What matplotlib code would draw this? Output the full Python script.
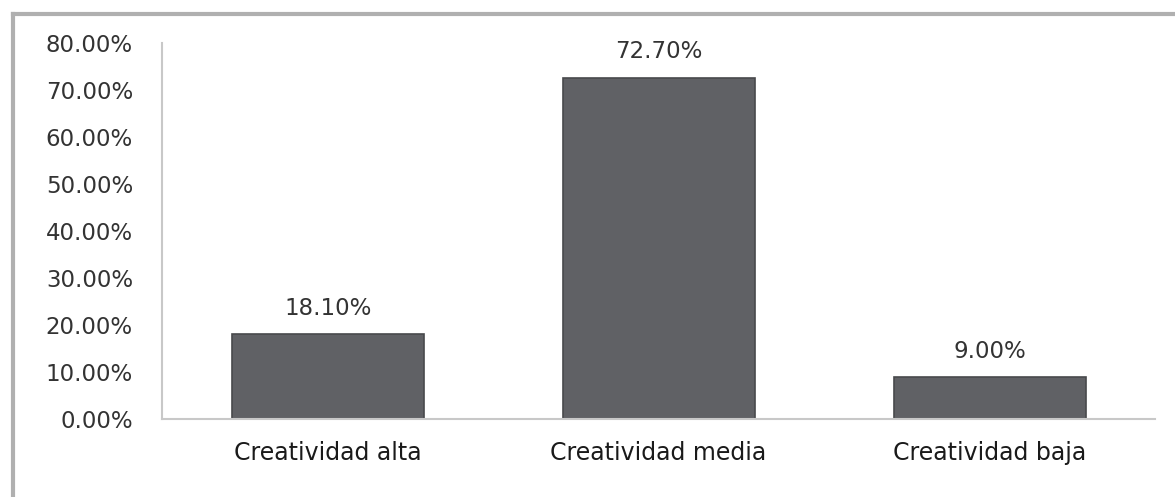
import matplotlib.pyplot as plt
from matplotlib.lines import Line2D

plt.rcParams['font.family'] = ['DejaVu Sans']

categories = ["Creatividad alta", "Creatividad media", "Creatividad baja"]
values = [0.181, 0.727, 0.090]
value_labels = ["18.10%", "72.70%", "9.00%"]
y_ticks = [0.0, 0.1, 0.2, 0.3, 0.4, 0.5, 0.6, 0.7, 0.8]

fig = plt.figure(figsize=(11.75, 4.97), dpi=100)
ax = fig.add_axes([0.138, 0.157, 0.845, 0.756])

x = list(range(len(categories)))
bars = ax.bar(x, values, width=0.58, color="#606165", edgecolor="#48494c", linewidth=1.2)

for xi, v, lab in zip(x, values, value_labels):
    ax.text(xi, v + 0.03, lab, ha="center", va="bottom", fontsize=16.5, color="#333333")

ax.set_xlim(-0.5, 2.5)
ax.set_ylim(0, 0.8)
ax.set_yticks(y_ticks)
ax.set_yticklabels([f"{t*100:.2f}%" for t in y_ticks], fontsize=16.5, color="#333333")
ax.set_xticks(x)
ax.set_xticklabels(categories, fontsize=17, color="#1a1a1a")
ax.tick_params(axis="y", length=0, pad=21)
ax.tick_params(axis="x", length=0, pad=16)

for s in ["top", "right"]:
    ax.spines[s].set_visible(False)
ax.spines["left"].set_color("#c8c8c8")
ax.spines["bottom"].set_color("#c8c8c8")
ax.spines["left"].set_linewidth(1.5)
ax.spines["bottom"].set_linewidth(1.5)

# outer frame (left and top edges of the picture box)
fig.add_artist(Line2D([0.011, 0.011], [0.0, 0.972], color="#b0b0b0", lw=3, transform=fig.transFigure))
fig.add_artist(Line2D([0.011, 1.0], [0.972, 0.972], color="#b0b0b0", lw=3, transform=fig.transFigure))

fig.savefig("out.png", dpi=100)
